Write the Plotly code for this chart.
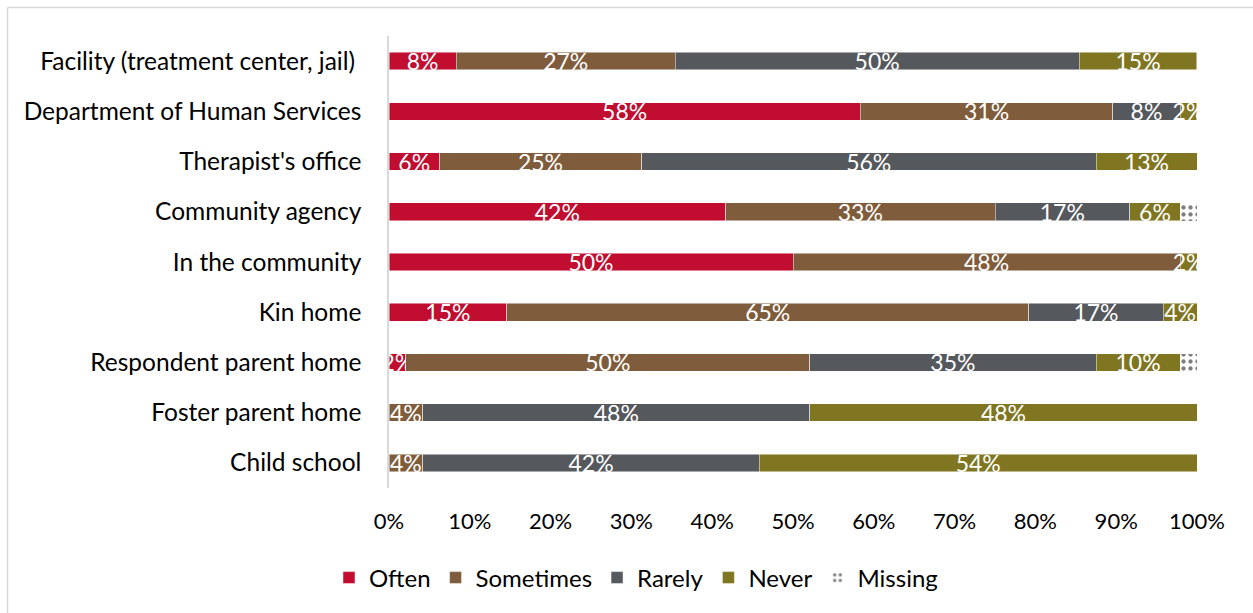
import plotly.graph_objects as go

# Settings listed top to bottom
settings = [
    "Facility (treatment center, jail)\u00a0",
    "Department of Human Services",
    "Therapist's office",
    "Community agency",
    "In the community",
    "Kin home",
    "Respondent parent home",
    "Foster parent home",
    "Child school",
]

# Percent of respondents per setting
often = [8.33, 58.33, 6.25, 41.67, 50.00, 14.58, 2.08, 0, 0]
sometimes = [27.08, 31.25, 25.00, 33.33, 47.92, 64.58, 50.00, 4.17, 4.17]
rarely = [50.00, 8.33, 56.25, 16.67, 0, 16.67, 35.42, 47.92, 41.67]
never = [14.58, 2.08, 12.50, 6.25, 2.08, 4.17, 10.42, 47.92, 54.17]
missing = [0, 0, 0, 2.08, 0, 0, 2.08, 0, 0]

x_ticks = [0, 10, 20, 30, 40, 50, 60, 70, 80, 90, 100]

FONT = "Lato"
W, H = 1253, 613
ML, MR, MT, MB = 389, 56, 36, 125


def pct_text(vals):
    return [f"{int(v + 0.5)}%" if v > 0 else "" for v in vals]


def nz(vals):
    return [v if v > 0 else None for v in vals]


fig = go.Figure()

series = [
    ("Often", often, "#C00D30"),
    ("Sometimes", sometimes, "#7F5C3B"),
    ("Rarely", rarely, "#55585D"),
    ("Never", never, "#807621"),
]
for name, vals, color in series:
    fig.add_trace(go.Bar(
        name=name,
        y=settings,
        x=nz(vals),
        orientation="h",
        marker=dict(color=color, line=dict(color="rgba(255,255,255,0.6)", width=0.8)),
        text=pct_text(vals),
        textposition="inside",
        insidetextanchor="middle",
        textangle=0,
        constraintext="none",
        textfont=dict(family=FONT, size=23, color="white"),
        hoverinfo="skip",
    ))

fig.add_trace(go.Bar(
    name="Missing",
    y=settings,
    x=nz(missing),
    orientation="h",
    marker=dict(
        color="white",
        line=dict(width=0),
        pattern=dict(shape=".", fgcolor="black", bgcolor="white", size=7, solidity=0.3),
    ),
    hoverinfo="skip",
))

plot_w = W - ML - MR
plot_h = H - MT - MB


def px_to_paper_x(px):
    return (px - ML) / plot_w


def px_to_paper_y(py):
    return 1 - (py - MT) / plot_h


fig.update_layout(
    width=W,
    height=H,
    margin=dict(l=ML, r=MR, t=MT, b=MB),
    barmode="stack",
    bargap=0.65,
    plot_bgcolor="white",
    paper_bgcolor="white",
    font=dict(family=FONT, size=23, color="#000000"),
    showlegend=True,
    legend=dict(
        orientation="h",
        x=px_to_paper_x(636),
        xanchor="center",
        y=px_to_paper_y(578),
        yanchor="middle",
        font=dict(family=FONT, size=24, color="#000000"),
        traceorder="normal",
        itemwidth=30,
    ),
    xaxis=dict(
        range=[0, 100],
        tickvals=x_ticks,
        ticktext=[f"{t}%" for t in x_ticks],
        showgrid=False,
        zeroline=False,
        showline=False,
        ticks="",
        ticklabelstandoff=18,
        tickfont=dict(family=FONT, size=22, color="#000000"),
    ),
    yaxis=dict(
        autorange="reversed",
        showgrid=False,
        zeroline=False,
        showline=True,
        linecolor="#D9D9D9",
        linewidth=1.5,
        ticks="",
        ticklabelstandoff=21,
        tickfont=dict(family=FONT, size=24.5, color="#000000"),
    ),
    shapes=[
        dict(type="line", xref="paper", yref="paper",
             x0=px_to_paper_x(7.5), x1=px_to_paper_x(7.5),
             y0=px_to_paper_y(7.5), y1=px_to_paper_y(613),
             line=dict(color="#D9D9D9", width=1.5)),
        dict(type="line", xref="paper", yref="paper",
             x0=px_to_paper_x(7.5), x1=px_to_paper_x(1253),
             y0=px_to_paper_y(7.5), y1=px_to_paper_y(7.5),
             line=dict(color="#D9D9D9", width=1.5)),
    ],
)

fig.write_html("out.html")
